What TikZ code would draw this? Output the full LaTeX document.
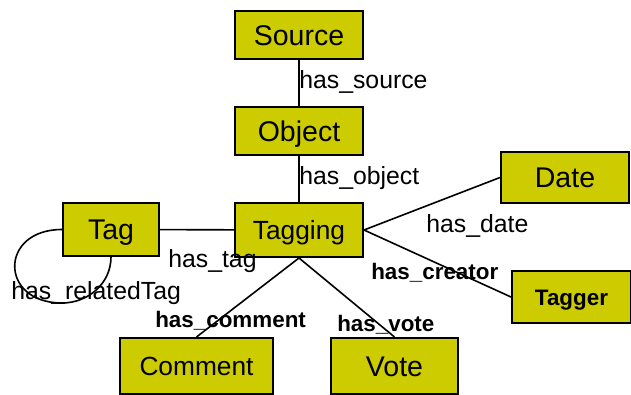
\documentclass[tikz,border=0pt]{standalone}
\usepackage{fontspec}
\setmainfont{Liberation Sans}
\definecolor{boxfill}{RGB}{204,204,0}
\begin{document}
\begin{tikzpicture}[x=1pt, y=-1pt, line width=1.6pt,
	box/.style={draw, fill=boxfill, line width=2pt, inner sep=0pt, text depth=0pt},
	bigbox/.style={box, font=\fontsize{28.5}{34}\selectfont, text height=20.4pt},
	midbox/.style={box, font=\fontsize{26.3}{32}\selectfont, text height=18.8pt},
	boldbox/.style={box, font=\bfseries\fontsize{22.4}{27}\selectfont, text height=16pt},
	lbl/.style={anchor=base west, inner sep=0pt, font=\fontsize{24.8}{30}\selectfont},
	boldlbl/.style={lbl, font=\bfseries\fontsize{22.4}{27}\selectfont}]
	\useasboundingbox (0,0) rectangle (631,395);
	
	\coordinate (loopbot) at (62,303);
	
	\node (source) at (299,35) [bigbox, minimum width=128pt, minimum height=48pt]{Source};
	\node (object) at (299,131) [bigbox, minimum width=128pt, minimum height=48pt]{Object};
	\node (tagging) at (299,230) [midbox, minimum width=128pt, minimum height=54pt]{Tagging};
	\node (tag) at (111,229.5) [bigbox, minimum width=96pt, minimum height=53pt]{Tag};
	\node (date) at (565,177.5) [bigbox, minimum width=128pt, minimum height=51pt]{Date};
	\node (tagger) at (571.5,297) [boldbox, minimum width=119pt, minimum height=52pt]{Tagger};
	\node (comment) at (196.5,366) [midbox, minimum width=153pt, minimum height=56pt]{Comment};
	\node (vote) at (394.5,366) [bigbox, minimum width=127pt, minimum height=56pt]{Vote};
	
	\draw (source) -- (object);
	\draw (object) -- (tagging);
	\draw (tag) -- (tagging);
	\draw (tagging.east) -- (date.west);
	\draw (tagging.east) -- (tagger.west);
	\draw (tagging.south) -- (comment.north);
	\draw (tagging.south) -- (vote.north);
	\draw (tag.west) to [out=180,in=180,looseness=2.2] (loopbot) to [out=0,in=270] (tag.south);
	
	% relation names
	\node (lsource) at (298.5,89) [lbl]{has\_source};
	\node (lobject) at (298.5,185) [lbl]{has\_object};
	\node (ltag) at (167.5,267) [lbl]{has\_tag};
	\node (ldate) at (425.5,232.5) [lbl]{has\_date};
	\node (lrelated) at (10.5,299) [lbl]{has\_relatedTag};
	\node (lcreator) at (370.5,279.5) [boldlbl]{has\_creator};
	\node (lcomment) at (154.5,327) [boldlbl]{has\_comment};
	\node (lvote) at (336.5,331) [boldlbl]{has\_vote};
	
\end{tikzpicture}
\end{document}
